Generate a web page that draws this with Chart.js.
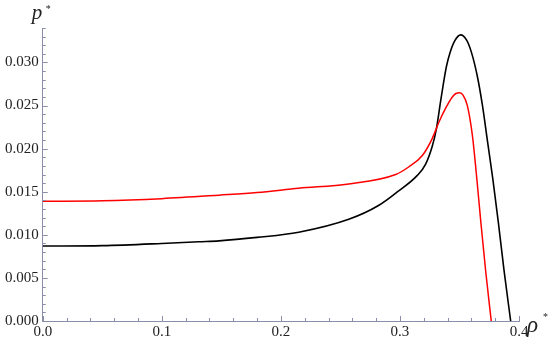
<!DOCTYPE html>
<html>
<head>
<meta charset="utf-8">
<script src="https://cdn.jsdelivr.net/npm/chart.js@4"></script>
<style>
html,body{margin:0;padding:0;background:#fff;}
#wrap{width:550px;height:343px;position:relative;}
</style>
</head>
<body>
<div id="wrap"><canvas id="c"></canvas></div>
<script>
// ---- data ----
const blackRho = [0.000, 0.050, 0.100, 0.131, 0.148, 0.180, 0.215, 0.257, 0.282, 0.298, 0.3146, 0.3216, 0.3272, 0.3305, 0.3345, 0.3390, 0.3420, 0.3460, 0.3510, 0.3560, 0.3600, 0.3650, 0.3692, 0.3734, 0.3780, 0.3826, 0.3874, 0.3930];
const blackP   = [0.0087, 0.00875, 0.0090, 0.0092, 0.0093, 0.0097, 0.0103, 0.0118, 0.0134, 0.0150, 0.0169, 0.0182, 0.0203, 0.0222, 0.0258, 0.0295, 0.0311, 0.0325, 0.0332, 0.0326, 0.0312, 0.0284, 0.0251, 0.0210, 0.0165, 0.0115, 0.0059, 0.0000];
const redRho   = [0.000, 0.050, 0.100, 0.148, 0.180, 0.215, 0.257, 0.2964, 0.3076, 0.3188, 0.3272, 0.3328, 0.3384, 0.3440, 0.3470, 0.3502, 0.3530, 0.3566, 0.3608, 0.3641, 0.3678, 0.3720, 0.3767];
const redP     = [0.0139, 0.01395, 0.0142, 0.0146, 0.0149, 0.0154, 0.0159, 0.0170, 0.0179, 0.0192, 0.0212, 0.0231, 0.0247, 0.0260, 0.0264, 0.0265, 0.0262, 0.0250, 0.0216, 0.0172, 0.0117, 0.0058, 0.0000];

const xTicks = [0, 0.1, 0.2, 0.3, 0.4];
const xTickLabels = ['0.0', '0.1', '0.2', '0.3', '0.4'];
const yTicks = [0, 0.005, 0.010, 0.015, 0.020, 0.025, 0.030];
const yTickLabels = ['0.000', '0.005', '0.010', '0.015', '0.020', '0.025', '0.030'];
const xMinorStep = 0.02;
const yMinorStep = 0.001;
const xTitle = 'ρ';
const yTitle = 'p';

const axisColor = '#8a8ea8';
const labelColor = '#222';
const serif = "'Liberation Serif', 'DejaVu Serif', serif";

const toPoints = (xs, ys) => xs.map((v, i) => ({x: v, y: ys[i]}));

const minorTicks = {
  id: 'minorTicks',
  afterDraw(chart) {
    const {ctx, chartArea, scales: {x, y}} = chart;
    ctx.save();
    ctx.strokeStyle = axisColor;
    ctx.lineWidth = 1;
    const nx = Math.round((x.max - x.min) / xMinorStep);
    for (let i = 0; i <= nx; i++) {
      const v = x.min + i * xMinorStep;
      const px = Math.round(x.getPixelForValue(v)) + 0.5;
      const len = (i % 5 === 0) ? 5 : 3;
      ctx.beginPath();
      ctx.moveTo(px, chartArea.bottom);
      ctx.lineTo(px, chartArea.bottom - len);
      ctx.stroke();
    }
    const ny = Math.floor((y.max - y.min) / yMinorStep + 1e-9);
    for (let i = 0; i <= ny; i++) {
      const v = y.min + i * yMinorStep;
      const py = Math.round(y.getPixelForValue(v)) + 0.5;
      const len = (i % 5 === 0) ? 5 : 3;
      ctx.beginPath();
      ctx.moveTo(chartArea.left, py);
      ctx.lineTo(chartArea.left + len, py);
      ctx.stroke();
    }
    // axis titles
    ctx.fillStyle = labelColor;
    ctx.textBaseline = 'alphabetic';
    ctx.textAlign = 'left';
    ctx.font = "italic 21px " + serif;
    ctx.fillText(yTitle, chartArea.left - 11, chartArea.top - 9);
    ctx.font = "10px " + serif;
    ctx.fillText('*', chartArea.left + 3, chartArea.top - 16);
    ctx.font = "italic 23px " + serif;
    ctx.fillText(xTitle, chartArea.right + 8, chartArea.bottom + 11);
    ctx.font = "10px " + serif;
    ctx.fillText('*', chartArea.right + 24, chartArea.bottom - 1);
    ctx.restore();
  }
};

new Chart(document.getElementById('c'), {
  type: 'line',
  data: {
    datasets: [
      {data: toPoints(redRho, redP), borderColor: '#ff0000', borderWidth: 1.5, pointRadius: 0, cubicInterpolationMode: 'monotone', fill: false, order: 1},
      {data: toPoints(blackRho, blackP), borderColor: '#000000', borderWidth: 1.6, pointRadius: 0, cubicInterpolationMode: 'monotone', fill: false, order: 2}
    ]
  },
  options: {
    responsive: true,
    maintainAspectRatio: false,
    animation: false,
    layout: {padding: {left: 1, right: 31, top: 28, bottom: 0}},
    plugins: {legend: {display: false}, tooltip: {enabled: false}},
    scales: {
      x: {
        type: 'linear', min: 0, max: 0.4,
        afterBuildTicks: s => { s.ticks = xTicks.map(v => ({value: v})); },
        ticks: {callback: (v, i) => xTickLabels[i], font: {family: serif, size: 15}, color: labelColor, padding: 2, maxRotation: 0, autoSkip: false},
        grid: {display: true, drawOnChartArea: false, drawTicks: false},
        border: {display: true, color: axisColor, width: 1}
      },
      y: {
        type: 'linear', min: 0, max: 0.034,
        afterBuildTicks: s => { s.ticks = yTicks.map(v => ({value: v})); },
        ticks: {callback: (v, i) => yTickLabels[i], font: {family: serif, size: 15}, color: labelColor, padding: 4, autoSkip: false},
        grid: {display: true, drawOnChartArea: false, drawTicks: false},
        border: {display: true, color: axisColor, width: 1}
      }
    }
  },
  plugins: [minorTicks]
});
</script>
</body>
</html>
